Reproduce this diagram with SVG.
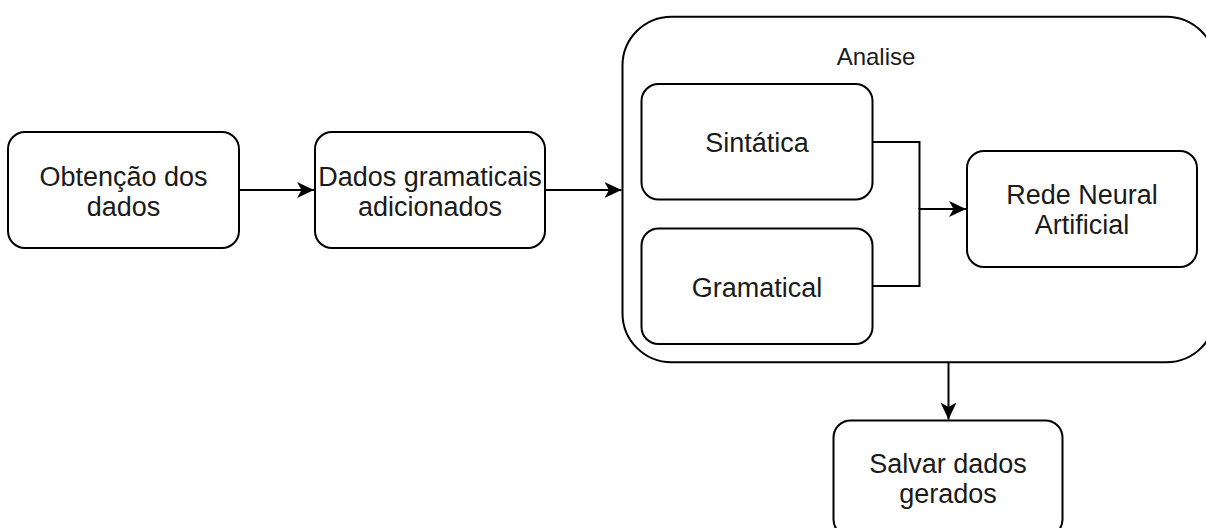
<svg xmlns="http://www.w3.org/2000/svg" width="1206" height="528" viewBox="0 0 1206 528">
  <defs>
    <marker id="arrow" markerUnits="userSpaceOnUse" markerWidth="18" markerHeight="18" refX="17" refY="8" orient="auto">
      <path d="M0,0 L17,8 L0,16 L4.5,8 Z" fill="#000"/>
    </marker>
    <style>
      .box { fill: #fff; stroke: #000; stroke-width: 2; }
      .edge { fill: none; stroke: #000; stroke-width: 2; }
      .lbl { font-family: "Liberation Sans", Arial, sans-serif; font-size: 27px; fill: #1a1a1a; text-anchor: middle; }
      .title { font-family: "Liberation Sans", Arial, sans-serif; font-size: 24px; fill: #1a1a1a; text-anchor: middle; }
    </style>
  </defs>
  <rect width="1206" height="528" fill="#fff"/>

  <g id="analise">
    <rect class="box" x="622.5" y="16.7" width="593" height="345.5" rx="49" ry="49"/>
    <text class="title" x="876" y="65">Analise</text>
  </g>

  <g id="obtencao">
    <rect class="box" x="8" y="132" width="231" height="116" rx="17" ry="17"/>
    <text class="lbl" x="123.5" y="186">Obtenção dos</text>
    <text class="lbl" x="123.5" y="215.5">dados</text>
  </g>

  <g id="dados-gramaticais">
    <rect class="box" x="315" y="132" width="230" height="116" rx="17" ry="17"/>
    <text class="lbl" x="430" y="186">Dados gramaticais</text>
    <text class="lbl" x="430" y="215.5">adicionados</text>
  </g>

  <g id="sintatica">
    <rect class="box" x="641.5" y="84" width="231" height="115.5" rx="17" ry="17"/>
    <text class="lbl" x="757" y="151.5">Sintática</text>
  </g>

  <g id="gramatical">
    <rect class="box" x="641.5" y="228.5" width="231" height="115.5" rx="17" ry="17"/>
    <text class="lbl" x="757" y="296.5">Gramatical</text>
  </g>

  <g id="rede-neural">
    <rect class="box" x="967" y="151" width="230" height="116" rx="17" ry="17"/>
    <text class="lbl" x="1082" y="204">Rede Neural</text>
    <text class="lbl" x="1082" y="234">Artificial</text>
  </g>

  <g id="salvar">
    <rect class="box" x="833.5" y="420.5" width="229" height="116" rx="17" ry="17"/>
    <text class="lbl" x="948" y="473">Salvar dados</text>
    <text class="lbl" x="948" y="502.5">gerados</text>
  </g>

  <g id="connectors">
    <path class="edge" d="M239,190 L314,190" marker-end="url(#arrow)"/>
    <path class="edge" d="M545,190 L621.5,190" marker-end="url(#arrow)"/>
    <path class="edge" d="M872.5,142 L919.5,142 L919.5,209"/>
    <path class="edge" d="M872.5,286 L919.5,286 L919.5,209 L966,209" marker-end="url(#arrow)"/>
    <path class="edge" d="M948.5,362.2 L948.5,419.5" marker-end="url(#arrow)"/>
  </g>
</svg>
